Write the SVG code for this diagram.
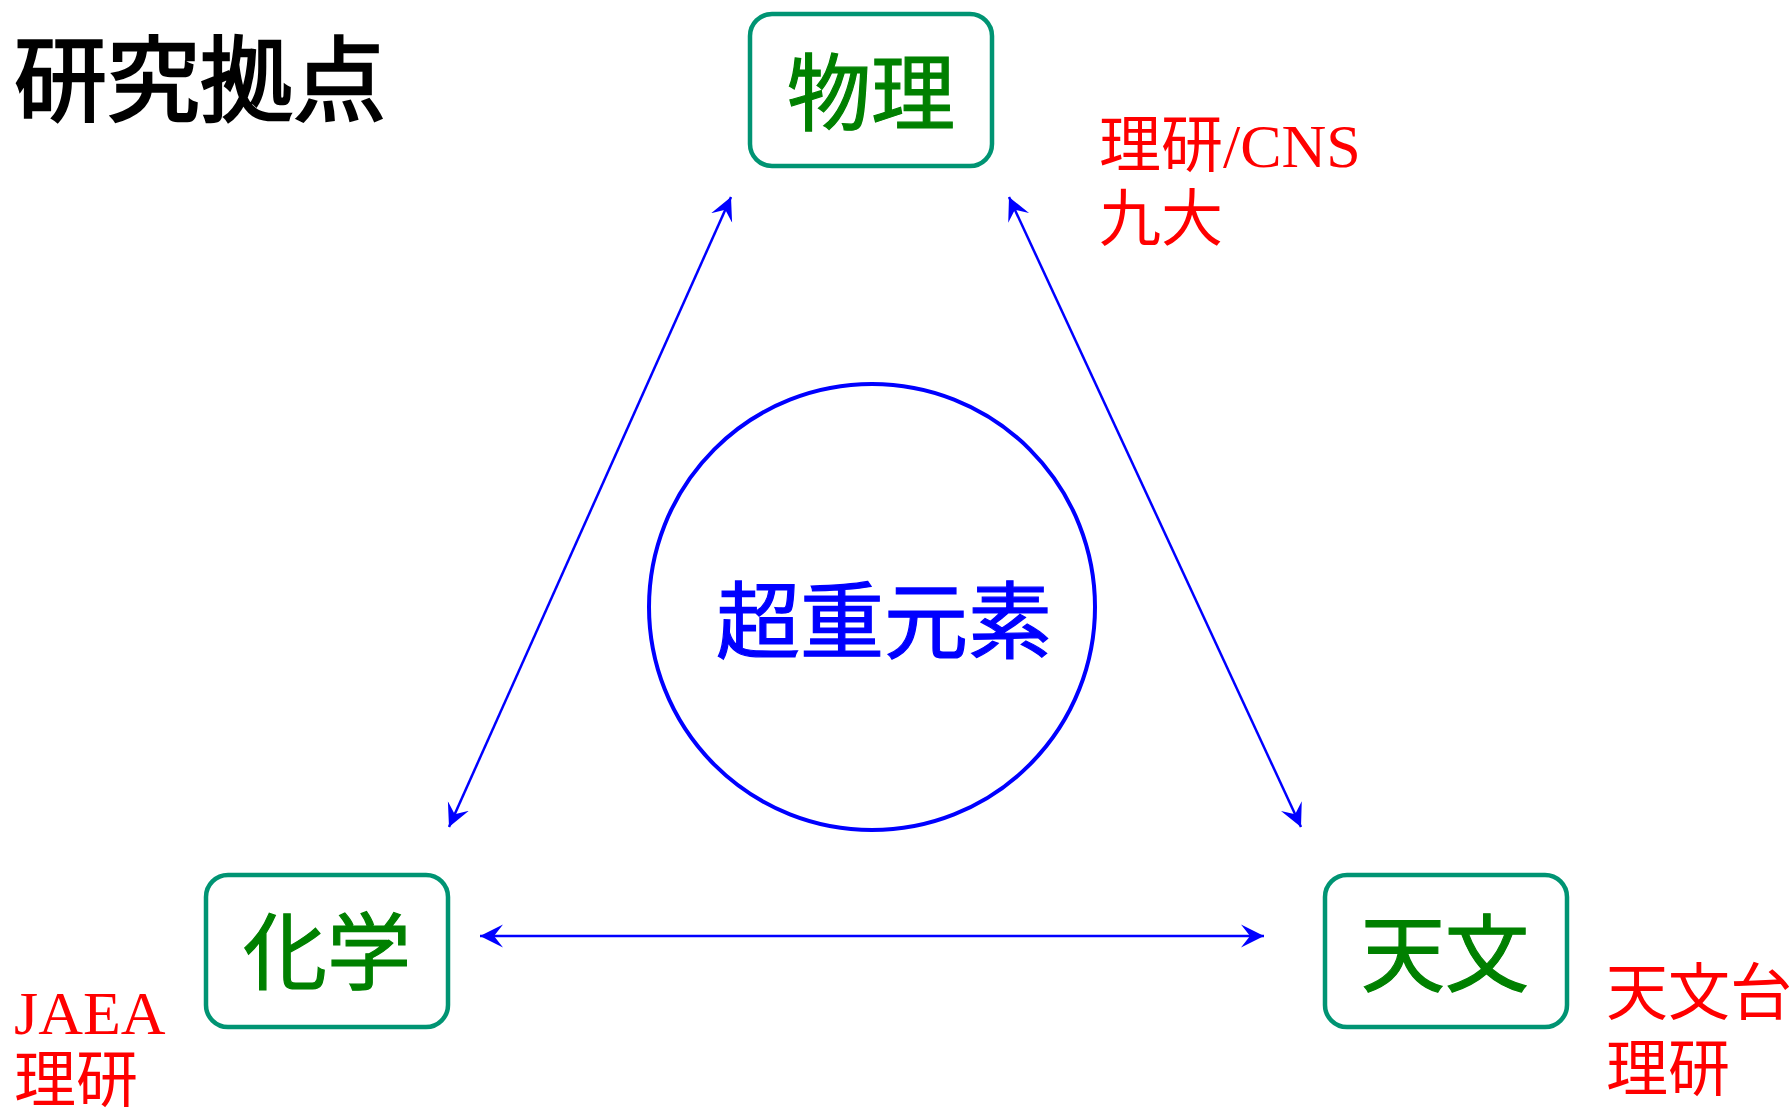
<svg xmlns="http://www.w3.org/2000/svg" width="1792" height="1113" viewBox="0 0 1792 1113">
  <defs>
    <marker id="ah" viewBox="-23 -12 24 24" markerWidth="24" markerHeight="24" refX="0" refY="0" markerUnits="userSpaceOnUse" orient="auto-start-reverse">
      <path d="M0,0 L-23,-11.5 L-14,0 L-23,11.5 Z" fill="#0000ff"/>
    </marker>
    <style>
      .box { fill: #ffffff; stroke: #009473; stroke-width: 4.5; }
      .boxlabel { font-family: "Noto Sans CJK JP", "Noto Sans", sans-serif; font-size: 84px; fill: #008000; stroke: #008000; stroke-width: 1.2; text-anchor: middle; }
      .inst { font-family: "Liberation Serif", "Noto Sans CJK JP", serif; font-size: 62px; fill: #ff0000; }
      .conn { stroke: #0000ff; stroke-width: 2.5; fill: none; marker-start: url(#ah); marker-end: url(#ah); }
    </style>
  </defs>
  <rect width="1792" height="1113" fill="#ffffff"/>

  <g id="title">
    <text x="14" y="114" font-family="Noto Sans CJK JP, Noto Sans, sans-serif" font-size="93" fill="#000000" stroke="#000000" stroke-width="2.4">研究拠点</text>
  </g>

  <g id="connectors">
    <line class="conn" x1="731" y1="197" x2="449" y2="827"/>
    <line class="conn" x1="1009" y1="197" x2="1301" y2="827"/>
    <line class="conn" x1="480" y1="936" x2="1264" y2="936"/>
  </g>

  <g id="center">
    <circle cx="872" cy="607" r="223" fill="none" stroke="#0000ff" stroke-width="4"/>
    <text x="884" y="652" font-family="Noto Sans CJK JP, Noto Sans, sans-serif" font-size="84" fill="#0000ff" stroke="#0000ff" stroke-width="1.2" text-anchor="middle">超重元素</text>
  </g>

  <g id="physics">
    <rect class="box" x="750" y="14" width="242" height="152" rx="22"/>
    <text class="boxlabel" x="871" y="124">物理</text>
  </g>

  <g id="chemistry">
    <rect class="box" x="206" y="875" width="242" height="152" rx="22"/>
    <text class="boxlabel" x="327" y="983">化学</text>
  </g>

  <g id="astronomy">
    <rect class="box" x="1325" y="875" width="242" height="152" rx="22"/>
    <text class="boxlabel" x="1445" y="985">天文</text>
  </g>

  <g id="label-physics">
    <text class="inst" x="1099" y="167">理研/CNS</text>
    <text class="inst" x="1099" y="241">九大</text>
  </g>

  <g id="label-chemistry">
    <text class="inst" x="14" y="1034">JAEA</text>
    <text class="inst" x="14" y="1102">理研</text>
  </g>

  <g id="label-astronomy">
    <text class="inst" x="1606" y="1015">天文台</text>
    <text class="inst" x="1606" y="1091">理研</text>
  </g>
</svg>
